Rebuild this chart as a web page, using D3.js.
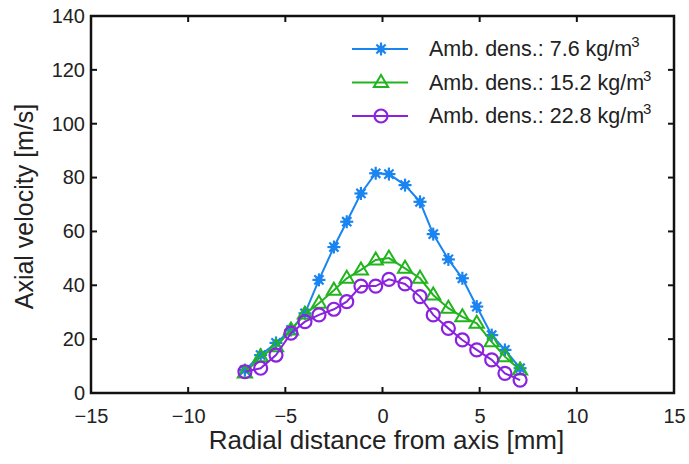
<!DOCTYPE html>
<html>
<head>
<meta charset="utf-8">
<script src="https://cdn.jsdelivr.net/npm/d3@7"></script>
<style>
  body { margin: 0; background: #fff; }
  text { font-family: "Liberation Sans", Arial, sans-serif; fill: #222; }
</style>
</head>
<body>
<div id="main"></div>
<script>
// values
const radius = [-7.08, -6.27, -5.48, -4.71, -3.99, -3.27, -2.5, -1.84, -1.11, -0.35,
                0.33, 1.16, 1.93, 2.61, 3.39, 4.11, 4.85, 5.62, 6.3, 7.08];
const vLow = [8.5, 14.1, 18.6, 23.4, 29.6, 42, 54.2, 63.6, 74.1, 81.6,
              81.3, 77.2, 71, 59, 49.6, 42.6, 32.1, 21.5, 16, 9.2];
const vMid = [7.4, 13.5, 17.2, 23.4, 29.3, 33.3, 38.2, 42.6, 45.7, 49.4,
              50.1, 46.3, 42.6, 36.4, 31.5, 28.3, 25.9, 19, 13.5, 8.5];
const vHigh = [7.9, 9.2, 14.1, 22.2, 26.5, 29, 31.1, 33.9, 39.7, 39.7,
               42.2, 40.5, 35.8, 29, 24, 19.7, 16, 12.3, 7.3, 4.8];

const seriesNames = ["Amb. dens.: 7.6 kg/m", "Amb. dens.: 15.2 kg/m", "Amb. dens.: 22.8 kg/m"];
const seriesColors = ["#1a84f0", "#22b41e", "#8a22e0"];
const seriesMarkers = ["star", "triangle", "circle"];

const xTicks = [-15, -10, -5, 0, 5, 10, 15];
const yTicks = [0, 20, 40, 60, 80, 100, 120, 140];

const ctx = {
    width: 689,
    height: 464,
    left: 91,
    right: 674,
    top: 16,
    bottom: 393,
};

const x = d3.scaleLinear().domain([-15, 15]).range([ctx.left, ctx.right]);
const y = d3.scaleLinear().domain([0, 140]).range([ctx.bottom, ctx.top]);

function drawMarker(g, kind, color, cx, cy) {
    if (kind == "star") {
        const r = 6.5;
        for (let a = 0; a < 4; a++) {
            const ang = a * Math.PI / 4;
            g.append("line")
                .attr("x1", cx - r * Math.cos(ang)).attr("y1", cy - r * Math.sin(ang))
                .attr("x2", cx + r * Math.cos(ang)).attr("y2", cy + r * Math.sin(ang))
                .attr("stroke", color).attr("stroke-width", 2.2);
        }
        g.append("circle").attr("cx", cx).attr("cy", cy).attr("r", 3.6).attr("fill", color);
    } else if (kind == "triangle") {
        const r = 7.5;
        const pts = [[cx, cy - r], [cx - r * 0.95, cy + r * 0.6], [cx + r * 0.95, cy + r * 0.6]];
        g.append("polygon")
            .attr("points", pts.map(p => p.join(",")).join(" "))
            .attr("fill", "none").attr("stroke", color).attr("stroke-width", 2);
    } else {
        g.append("circle").attr("cx", cx).attr("cy", cy).attr("r", 6.5)
            .attr("fill", "none").attr("stroke", color).attr("stroke-width", 2.2);
    }
}

function createViz() {
    const svg = d3.select("#main").append("svg")
        .attr("width", ctx.width)
        .attr("height", ctx.height);

    const allSeries = [vLow, vMid, vHigh];
    const line = d3.line().x(d => x(d[0])).y(d => y(d[1]));

    // curves
    allSeries.forEach((vals, i) => {
        const pts = radius.map((r, j) => [r, vals[j]]);
        svg.append("path")
            .attr("d", line(pts))
            .attr("fill", "none")
            .attr("stroke", seriesColors[i])
            .attr("stroke-width", 2);
        const mg = svg.append("g");
        pts.forEach(p => drawMarker(mg, seriesMarkers[i], seriesColors[i], x(p[0]), y(p[1])));
    });

    // frame
    svg.append("rect")
        .attr("x", ctx.left).attr("y", ctx.top)
        .attr("width", ctx.right - ctx.left).attr("height", ctx.bottom - ctx.top)
        .attr("fill", "none").attr("stroke", "#111").attr("stroke-width", 2.5);

    const tk = 6;
    const bottomAxis = d3.axisBottom(x).tickValues(xTicks).tickSize(0).tickPadding(16)
        .tickFormat(d => d < 0 ? "\u2212" + Math.abs(d) : d);
    const leftAxis = d3.axisLeft(y).tickValues(yTicks).tickSize(0).tickPadding(6);

    const gx = svg.append("g").attr("transform", `translate(0,${ctx.bottom})`).call(bottomAxis);
    const gy = svg.append("g").attr("transform", `translate(${ctx.left},0)`).call(leftAxis);
    [gx, gy].forEach(g => {
        g.select(".domain").remove();
        g.selectAll("text").style("font-size", "20px").attr("fill", "#222");
    });

    // inward ticks on all four sides
    const tg = svg.append("g").attr("stroke", "#111").attr("stroke-width", 2);
    xTicks.slice(1, -1).forEach(v => {
        tg.append("line").attr("x1", x(v)).attr("x2", x(v)).attr("y1", ctx.bottom).attr("y2", ctx.bottom - tk);
        tg.append("line").attr("x1", x(v)).attr("x2", x(v)).attr("y1", ctx.top).attr("y2", ctx.top + tk);
    });
    yTicks.slice(1, -1).forEach(v => {
        tg.append("line").attr("x1", ctx.left).attr("x2", ctx.left + tk).attr("y1", y(v)).attr("y2", y(v));
        tg.append("line").attr("x1", ctx.right).attr("x2", ctx.right - tk).attr("y1", y(v)).attr("y2", y(v));
    });

    // axis titles
    svg.append("text")
        .attr("x", (ctx.left + ctx.right) / 2 + 4).attr("y", 449)
        .attr("text-anchor", "middle").style("font-size", "26px")
        .text("Radial distance from axis [mm]");
    svg.append("text")
        .attr("transform", `translate(33,${(ctx.top + ctx.bottom) / 2 + 2}) rotate(-90)`)
        .attr("text-anchor", "middle").style("font-size", "25px")
        .text("Axial velocity [m/s]");

    // legend
    const lg = svg.append("g");
    seriesNames.forEach((name, i) => {
        const ly = 49 + i * 33.5;
        lg.append("line").attr("x1", 352).attr("x2", 408).attr("y1", ly).attr("y2", ly)
            .attr("stroke", seriesColors[i]).attr("stroke-width", 2);
        drawMarker(lg, seriesMarkers[i], seriesColors[i], 381, ly);
        const t = lg.append("text").attr("x", 429).attr("y", ly + 7).style("font-size", "21.5px");
        t.append("tspan").text(name);
        t.append("tspan").attr("dy", -9).attr("dx", -1).style("font-size", "15px").text("3");
    });
}

createViz();
</script>
</body>
</html>
